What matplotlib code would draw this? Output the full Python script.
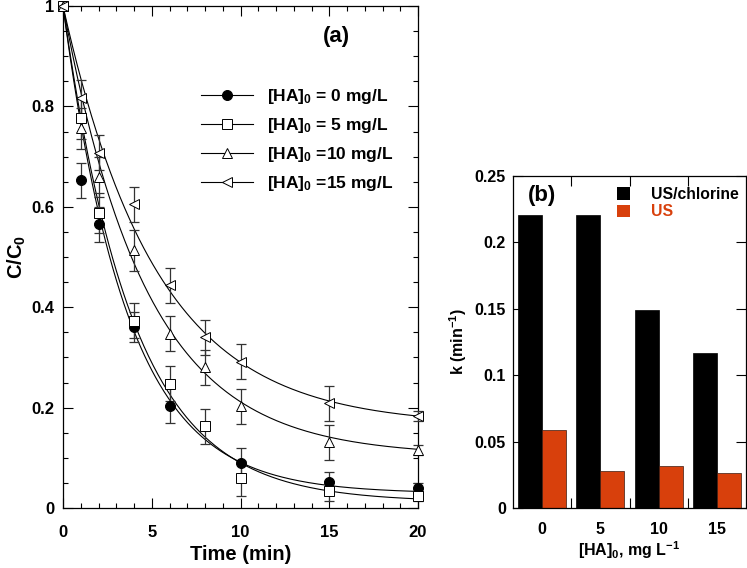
import numpy as np
import matplotlib
matplotlib.use("Agg")
import matplotlib.pyplot as plt
from matplotlib.lines import Line2D
from matplotlib.patches import Patch
from matplotlib.ticker import MultipleLocator, FixedLocator

plt.rcParams['font.family'] = ['Liberation Sans', 'DejaVu Sans']
plt.rcParams['font.weight'] = 'bold'
plt.rcParams['mathtext.fontset'] = 'custom'
plt.rcParams['mathtext.rm'] = 'Liberation Sans:bold'
plt.rcParams['mathtext.it'] = 'Liberation Sans:bold'
plt.rcParams['mathtext.bf'] = 'Liberation Sans:bold'

# ---------------- Panel (a) data ----------------
time_min = [0, 1, 2, 4, 6, 8, 10, 15, 20]

t_ha0 = [0, 1, 2, 4, 6, 10, 15, 20]
c_ha0 = [1.0, 0.653, 0.565, 0.361, 0.204, 0.089, 0.051, 0.040]
e_ha0 = [0.0, 0.035, 0.035, 0.03, 0.035, 0.03, 0.02, 0.01]

c_ha5 = [1.0, 0.776, 0.588, 0.373, 0.248, 0.163, 0.059, 0.034, 0.024]
e_ha5 = [0.0, 0.04, 0.04, 0.035, 0.035, 0.035, 0.035, 0.02, 0.01]

c_ha10 = [1.0, 0.756, 0.660, 0.513, 0.347, 0.280, 0.203, 0.131, 0.116]
e_ha10 = [0.0, 0.04, 0.04, 0.04, 0.035, 0.035, 0.035, 0.035, 0.01]

c_ha15 = [1.0, 0.817, 0.708, 0.605, 0.444, 0.340, 0.291, 0.209, 0.183]
e_ha15 = [0.0, 0.035, 0.035, 0.035, 0.035, 0.035, 0.035, 0.035, 0.01]

# fitted curve parameters (plateau, rate constant) read from the drawn fits
fit_plateau = [0.029, 0.012, 0.104, 0.164]
fit_rate = [0.275, 0.254, 0.212, 0.189]

legend_labels_a = ['[HA]$_0$ = 0 mg/L', '[HA]$_0$ = 5 mg/L',
                   '[HA]$_0$ =10 mg/L', '[HA]$_0$ =15 mg/L']

# ---------------- Panel (b) data ----------------
ha_levels = ['0', '5', '10', '15']
k_us_chlorine = [0.221, 0.221, 0.149, 0.117]
k_us = [0.059, 0.028, 0.032, 0.026]

orange = '#d8400c'

fig = plt.figure(figsize=(7.47, 5.68), dpi=100)

# ---------------- Panel (a) ----------------
axa = fig.add_axes([63/747, 60/568, 355/747, 502/568])
tfit = np.linspace(0, 20, 300)
for c, k in zip(fit_plateau, fit_rate):
    axa.plot(tfit, c + (1 - c) * np.exp(-k * tfit), color='black', lw=0.8, zorder=2)

series = [
    (t_ha0, c_ha0, e_ha0, 'o', 'black'),
    (time_min, c_ha5, e_ha5, 's', 'white'),
    (time_min, c_ha10, e_ha10, '^', 'white'),
    (time_min, c_ha15, e_ha15, '<', 'white'),
]
handles = []
for (t, c, e, m, fc), lab in zip(series, legend_labels_a):
    eb = axa.errorbar(t, c, yerr=e, fmt='none', ecolor='#333333', elinewidth=0.9,
                      capsize=3.6, capthick=0.9, zorder=3)
    for art in eb.get_children():
        art.set_clip_on(False)
    ms = 7.5 if m != 'o' else 7.2
    axa.plot(t, c, linestyle='none', marker=m, markersize=ms,
             markerfacecolor=fc, markeredgecolor='black', markeredgewidth=0.7,
             zorder=4, clip_on=False)
    handles.append(Line2D([], [], color='black', lw=0.8, marker=m, markersize=ms,
                          markerfacecolor=fc, markeredgecolor='black',
                          markeredgewidth=0.7))

axa.set_xlim(0, 20)
axa.set_ylim(0, 1)
axa.xaxis.set_major_locator(MultipleLocator(5))
axa.xaxis.set_minor_locator(MultipleLocator(1))
axa.yaxis.set_minor_locator(MultipleLocator(0.05))
axa.set_yticks([0, 0.2, 0.4, 0.6, 0.8, 1.0])
axa.set_yticklabels(['0', '0.2', '0.4', '0.6', '0.8', '1'])
axa.tick_params(which='both', direction='in', top=True, right=True, width=0.8)
axa.tick_params(which='major', length=7)
axa.tick_params(which='minor', length=3.5)
axa.tick_params(axis='x', which='major', pad=12, labelsize=12)
axa.tick_params(axis='y', which='major', pad=6, labelsize=12)
for sp in axa.spines.values():
    sp.set_linewidth(0.9)
axa.set_xlabel('Time (min)', fontsize=14.5, fontweight='bold', labelpad=4)
axa.set_ylabel('C/C$_0$', fontsize=14.5, fontweight='bold')
axa.yaxis.set_label_coords(-0.098, 0.5)
axa.text(0.769, 0.94, '(a)', transform=axa.transAxes, fontsize=16,
         fontweight='bold', ha='center', va='center')
leg = axa.legend(handles, legend_labels_a, loc='upper left',
                 bbox_to_anchor=(0.355, 0.862), frameon=False, fontsize=12.5,
                 handlelength=3.0, handletextpad=0.8, labelspacing=0.575,
                 borderpad=0.2)

# ---------------- Panel (b) ----------------
axb = fig.add_axes([513/747, 60/568, 233/747, 332/568])
x = np.arange(len(ha_levels))
w = 0.41
axb.bar(x - w/2, k_us_chlorine, width=w, color='black', edgecolor='black',
        linewidth=0.5, label='US/chlorine', zorder=2)
axb.bar(x + w/2, k_us, width=w, color=orange, edgecolor='#3a1a10',
        linewidth=0.5, label='US', zorder=2)
axb.set_xlim(-0.5, 3.5)
axb.set_ylim(0, 0.25)
axb.set_xticks(x)
axb.set_xticklabels(ha_levels)
axb.xaxis.set_minor_locator(FixedLocator([0.5, 1.5, 2.5]))
axb.set_yticks([0, 0.05, 0.1, 0.15, 0.2, 0.25])
axb.set_yticklabels(['0', '0.05', '0.1', '0.15', '0.2', '0.25'])
axb.tick_params(axis='x', which='major', length=0, pad=10, labelsize=11.5)
axb.tick_params(axis='x', which='minor', direction='in', top=True, bottom=True,
                length=7, width=0.8)
axb.tick_params(axis='y', which='major', direction='in', left=True, right=True,
                length=7, width=0.8, pad=5, labelsize=11.5)
for sp in axb.spines.values():
    sp.set_linewidth(0.9)
axb.set_ylabel('k (min$^{-1}$)', fontsize=11.5, fontweight='bold', labelpad=4)
axb.set_xlabel('[HA]$_0$, mg L$^{-1}$', fontsize=11.5, fontweight='bold', labelpad=2)
axb.text(0.124, 0.94, '(b)', transform=axb.transAxes, fontsize=16,
         fontweight='bold', ha='center', va='center')
lh = [Patch(facecolor='black', edgecolor='none'), Patch(facecolor=orange, edgecolor='none')]
legb = axb.legend(lh, ['US/chlorine', 'US'], loc='upper left',
                  bbox_to_anchor=(0.399, 1.0), frameon=False, fontsize=11.3,
                  handlelength=0.85, handleheight=0.85, handletextpad=1.35,
                  labelspacing=0.15, borderpad=0.2)
legb.get_texts()[1].set_color(orange)

fig.savefig('out.png', dpi=100)
